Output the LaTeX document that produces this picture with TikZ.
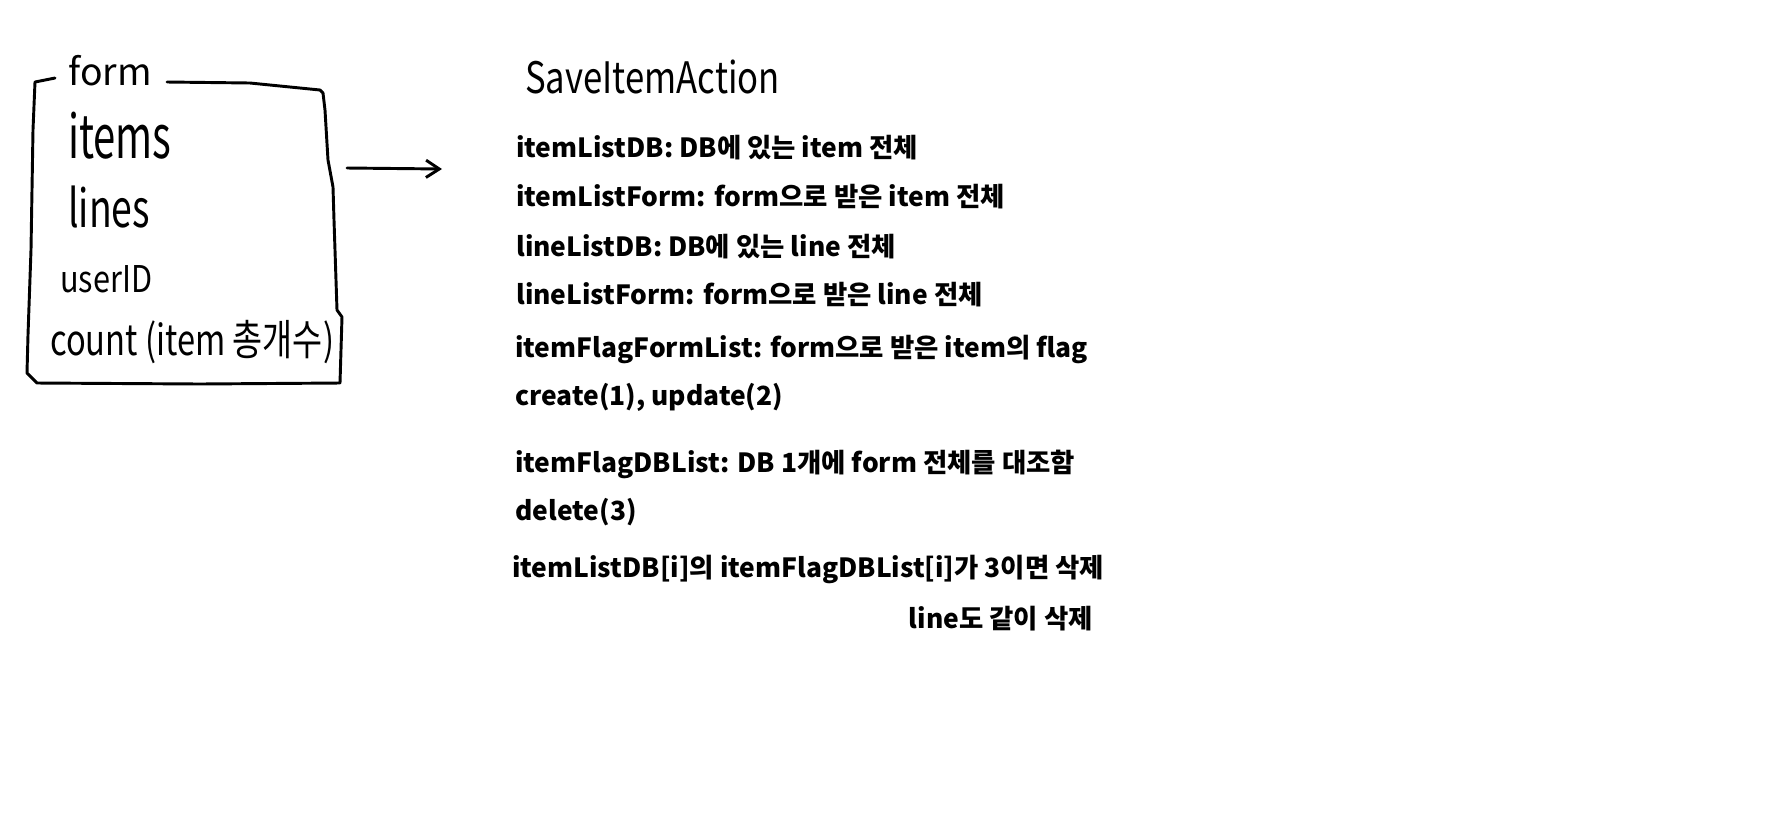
\documentclass[tikz,border=0pt]{standalone}
\usepackage{fontspec}
\usepackage{graphicx}
\setmainfont{Noto Sans CJK KR}
\usetikzlibrary{arrows.meta}
\begin{document}
\begin{tikzpicture}[x=0.75pt,y=-0.75pt,
  txt/.style={anchor=base west, inner sep=0pt, font=\fontsize{19.8}{22}\selectfont\bfseries},
  txtr/.style={txt, anchor=base east},
  hand/.style={anchor=base west, inner sep=0pt},
  stroke/.style={line width=2.2pt, line join=round, line cap=round}]
\useasboundingbox (0,0) rectangle (1791,833);
\fill[white] (0,0) rectangle (1791,833);

% hand-drawn box
\draw[stroke] (55,78) -- (35,82) -- (33,130) -- (31,250) -- (28,335) -- (27,373)
  -- (37,383) -- (200,384) -- (340,383) -- (342,317) -- (337,310) -- (334,220)
  -- (333,187) -- (328,160) -- (325,110) -- (323,93) -- (320,90) -- (250,83) -- (167,82);

% handwritten texts
\node[hand] (form) at (68,85) {\fontsize{28}{30}\selectfont form};
\node[hand] (items) at (68,158) {\scalebox{1}[1.5]{\fontsize{30}{32}\selectfont items}};
\node[hand] (lines) at (68,227) {\scalebox{1}[1.4]{\fontsize{28}{30}\selectfont lines}};
\node[hand] (userid) at (60,292) {\scalebox{1}[1.2]{\fontsize{23}{25}\selectfont userID}};
\node[hand] (count) at (50,355) {\scalebox{1}[1.3]{\fontsize{24.5}{26}\selectfont count (item 총개수)}};

% arrow
\coordinate (a1) at (347,168);
\coordinate (a2) at (442,169);
\draw[stroke, -{Straight Barb[length=10pt,width=13pt,line width=2.2pt]}] (a1) -- (a2);

% title
\node[hand] (title) at (525,93) {\scalebox{1}[1.25]{\fontsize{26}{28}\selectfont SaveItemAction}};

% typed text
\node[txt] (l1) at (516,157) {itemListDB: DB에 있는 item 전체};
\node[txt] (l2) at (516,206) {itemListForm: form으로 받은 item 전체};
\node[txt] (l3) at (516,256) {lineListDB: DB에 있는 line 전체};
\node[txt] (l4) at (516,304) {lineListForm: form으로 받은 line 전체};
\node[txt] (l5) at (515,357) {itemFlagFormList: form으로 받은 item의 flag};
\node[txt] (l6) at (515,405) {create(1), update(2)};
\node[txt] (l7) at (515,472) {itemFlagDBList: DB 1개에 form 전체를 대조함};
\node[txt] (l8) at (515,520) {delete(3)};
\node[txt] (l9) at (512,577) {itemListDB[i]의 itemFlagDBList[i]가 3이면 삭제};
\node[txtr] (l10) at (1093,628) {line도 같이 삭제};
\end{tikzpicture}
\end{document}
